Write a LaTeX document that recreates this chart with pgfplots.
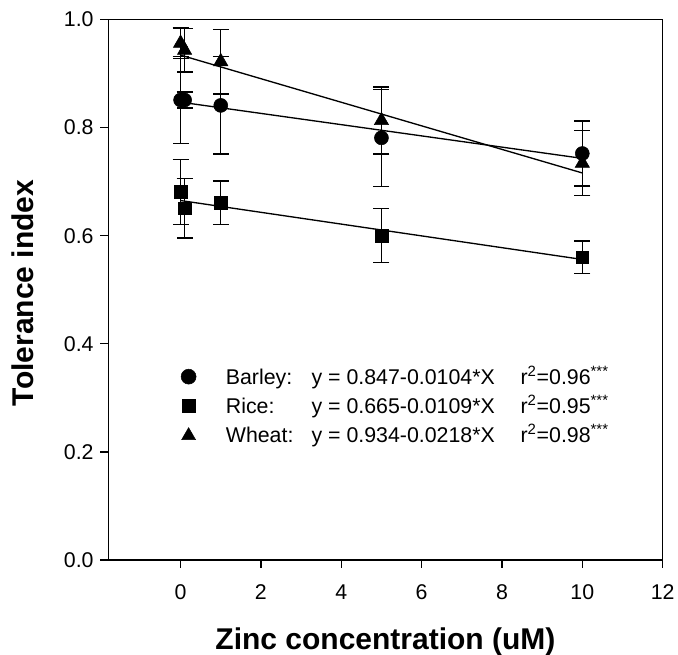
\documentclass[border=0pt]{standalone}
\usepackage{fontspec}
\setmainfont{Liberation Sans}
\usepackage{pgfplots}
\usepackage{pgfplotstable}
\pgfplotsset{compat=1.18}

% x  y  e (half error bar)
\pgfplotstableread{
x y e
0 0.851 0.080
0.1 0.851 0.015
1 0.841 0.090
5 0.781 0.090
10 0.752 0.060
}\barley
\pgfplotstableread{
x y e
0 0.681 0.060
0.1 0.651 0.055
1 0.661 0.040
5 0.600 0.050
10 0.560 0.030
}\rice
\pgfplotstableread{
x y e
0 0.956 0.028
0.1 0.943 0.040
1 0.922 0.060
5 0.813 0.062
10 0.734 0.060
}\wheat

\pgfplotsset{
 ebar/.style={black,only marks,
  error bars/y dir=both,error bars/y explicit,
  error bars/error bar style={line width=1pt},
  error bars/error mark options={rotate=90,mark size=6pt,line width=1pt}},
}

\begin{document}
\begin{tikzpicture}
\useasboundingbox (-81.2pt,-71.25pt) rectangle (427.3pt,420pt);
\begin{axis}[
 scale only axis,width=415.8pt,height=405.4pt,
 xmin=-1.8,xmax=12,ymin=0,ymax=1,
 xtick={0,2,4,6,8,10,12},ytick={0,0.2,0.4,0.6,0.8,1.0},
 tick align=outside,xtick pos=bottom,ytick pos=left,
 major tick length=6pt,
 axis line style={line width=1.1pt},
 every tick/.style={black,line width=1pt},
 tick label style={font=\fontsize{16}{19}\selectfont},
 /pgf/number format/assume math mode=true,
 yticklabel style={xshift=-1.5pt,/pgf/number format/fixed,/pgf/number format/fixed zerofill,/pgf/number format/precision=1},
 xticklabel style={anchor=base,yshift=-23.5pt},
 xlabel={Zinc concentration (uM)},ylabel={Tolerance index},
 every axis x label/.style={at={(axis description cs:0.5,0)},anchor=base,yshift=-67.5pt,
  font=\fontsize{22.5}{27}\selectfont\bfseries},
 every axis y label/.style={at={(axis description cs:-0.155,0.494)},anchor=center,rotate=90,
  font=\fontsize{22.5}{27}\selectfont\bfseries},
 clip=false,
]
% regression lines
\addplot[black,line width=1pt] coordinates {(0,0.847) (10,0.743)};
\addplot[black,line width=1pt] coordinates {(0,0.665) (10,0.556)};
\addplot[black,line width=1pt] coordinates {(0,0.934) (10,0.716)};
% data with error bars
\addplot[ebar,mark=*,mark size=5.25pt] table[x=x,y=y,y error=e]{\barley};
\addplot[ebar,mark=square*,mark size=4.75pt] table[x=x,y=y,y error=e]{\rice};
\addplot[ebar,mark=triangle*,mark size=6.2pt] table[x=x,y=y,y error=e]{\wheat};
% key
\addplot[black,only marks,mark=*,mark size=5.6pt] coordinates {(0.2,0.3392)};
\addplot[black,only marks,mark=square*,mark size=4.75pt] coordinates {(0.2,0.2855)};
\addplot[black,only marks,mark=triangle*,mark size=6pt] coordinates {(0.2,0.2300)};
\begin{scope}[every node/.style={anchor=base west,inner sep=0pt,font=\fontsize{16}{19}\selectfont}]
\node at (axis cs:1.121,0.3238) {\makebox[64.3pt][l]{Barley:}\makebox[156.75pt][l]{y = 0.847-0.0104*X}r\textsuperscript{2}=0.96\textsuperscript{***}};
\node at (axis cs:1.121,0.2701) {\makebox[64.3pt][l]{Rice:}\makebox[156.75pt][l]{y = 0.665-0.0109*X}r\textsuperscript{2}=0.95\textsuperscript{***}};
\node at (axis cs:1.121,0.2165) {\makebox[64.3pt][l]{Wheat:}\makebox[156.75pt][l]{y = 0.934-0.0218*X}r\textsuperscript{2}=0.98\textsuperscript{***}};
\end{scope}
\end{axis}
\end{tikzpicture}
\end{document}
